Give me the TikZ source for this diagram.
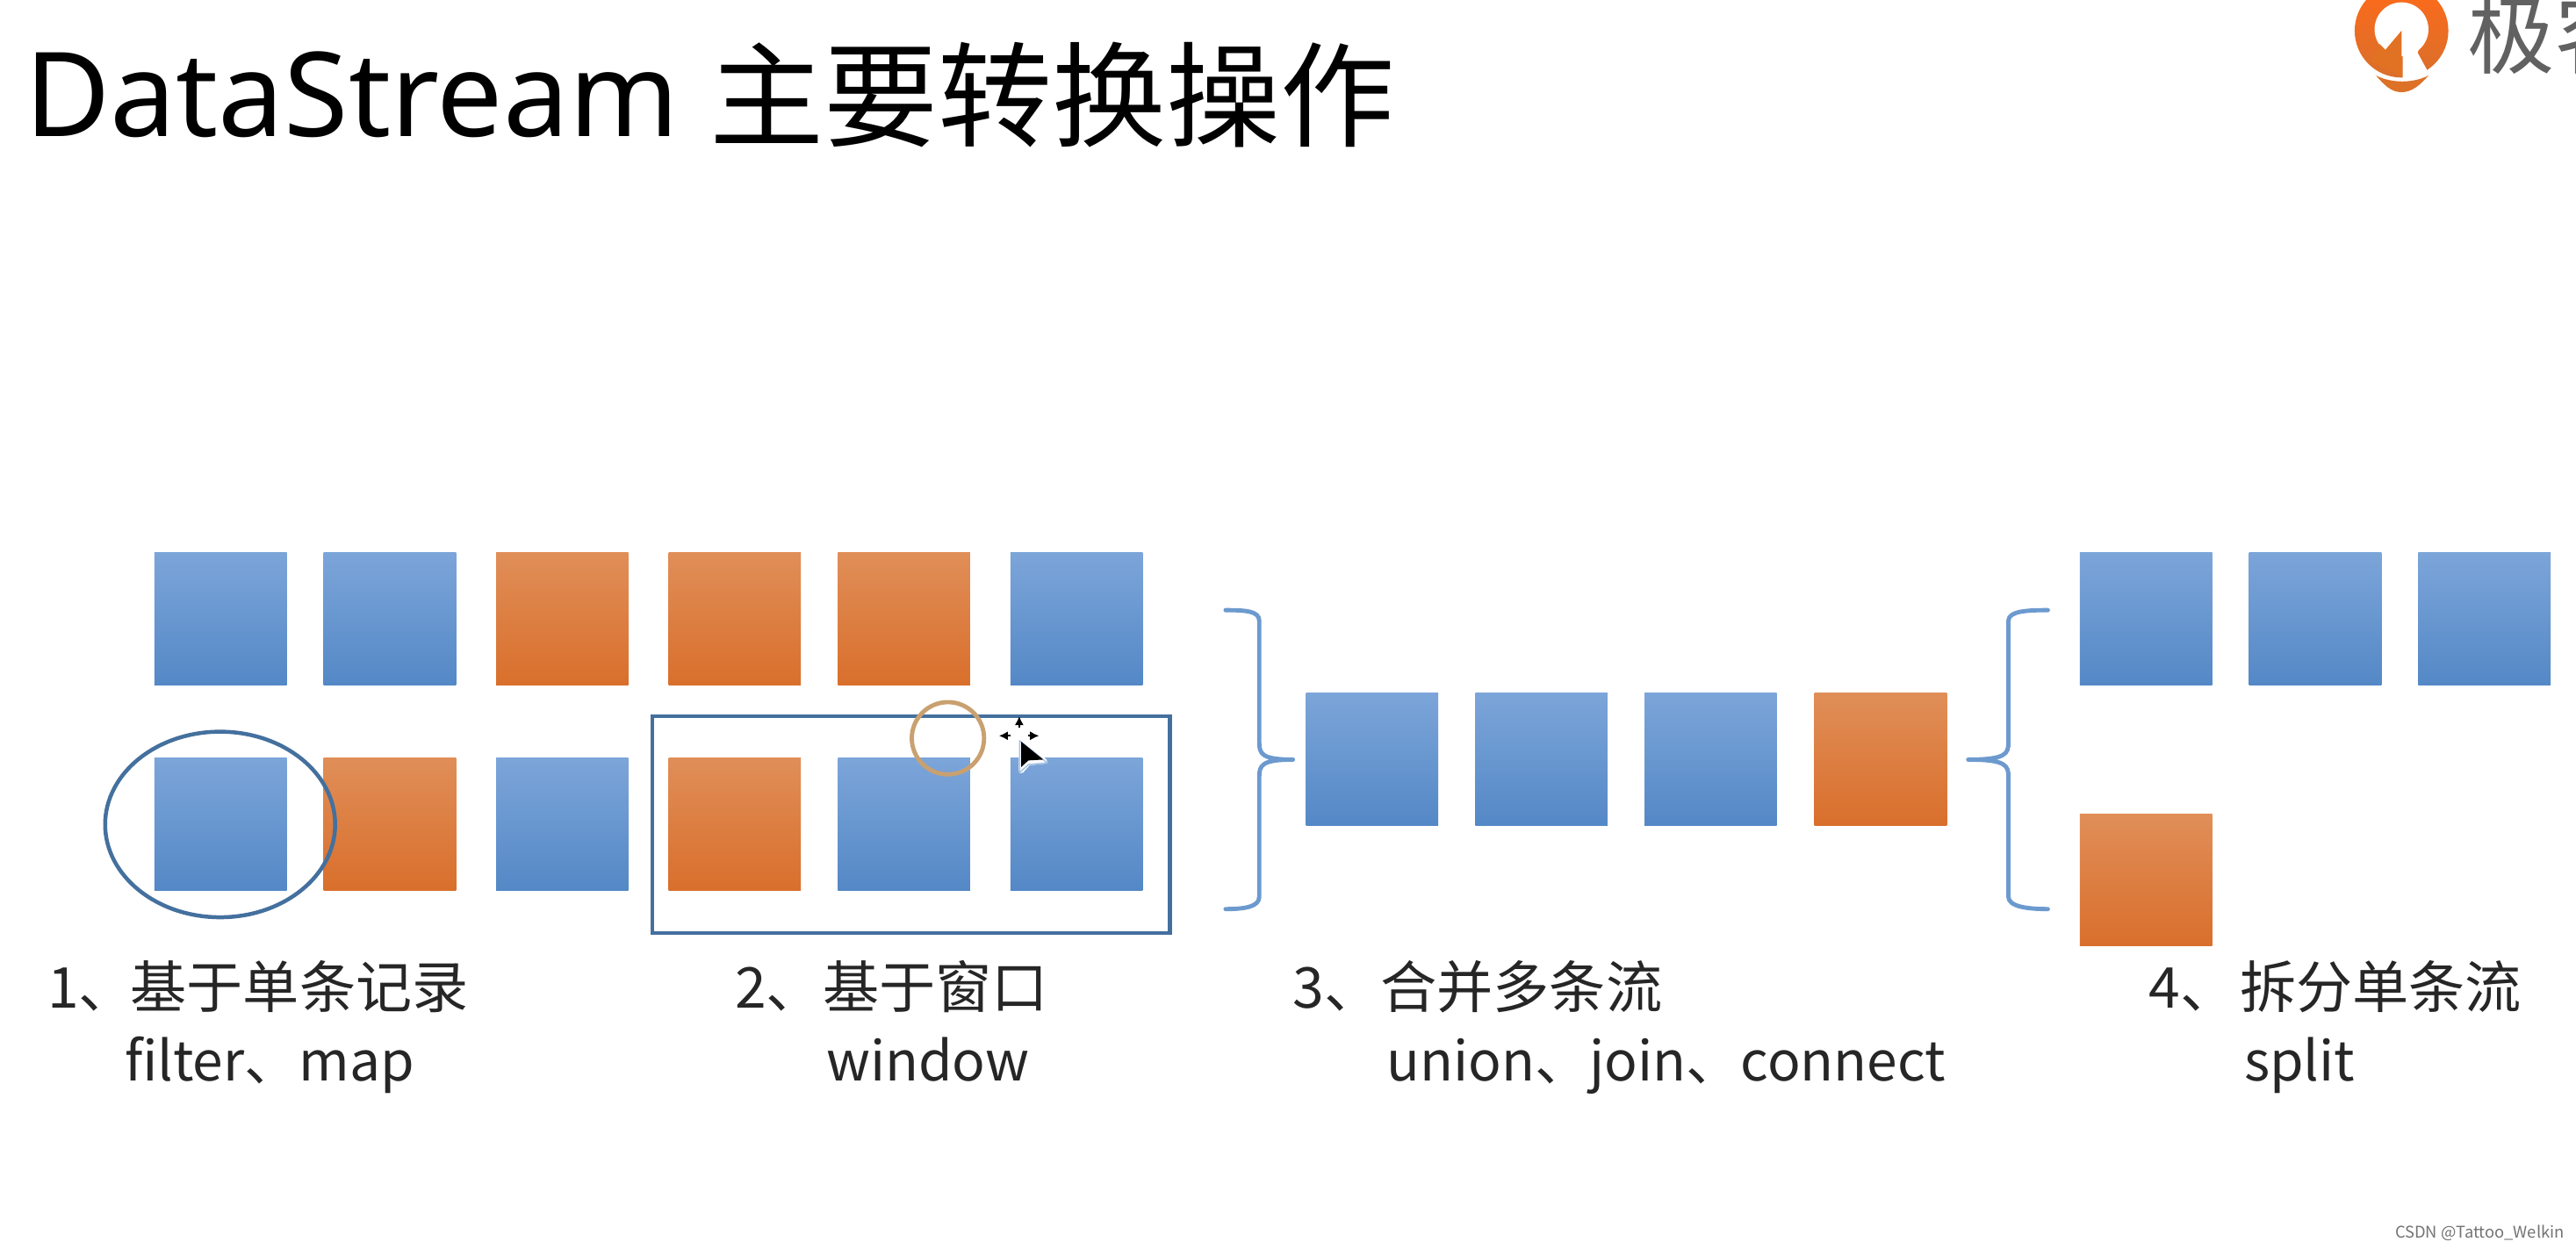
\documentclass[tikz,border=0pt]{standalone}
\usepackage{fontspec}
\setmainfont{Noto Sans CJK SC}
\newfontfamily\latinfont{Noto Sans}
\usetikzlibrary{arrows.meta}
\definecolor{bluetop}{HTML}{7CA5D9}
\definecolor{bluebot}{HTML}{5488C6}
\definecolor{orgtop}{HTML}{E08E58}
\definecolor{orgbot}{HTML}{D96F2C}
\definecolor{framecol}{HTML}{44709E}
\definecolor{bracecol}{HTML}{6C9ACF}
\definecolor{ringcol}{HTML}{C9A070}
\tikzset{
  sq/.style={rectangle,inner sep=0pt,outer sep=0pt,minimum width=80.5pt,minimum height=80.5pt,anchor=north west,shading=axis,shading angle=0},
  bluesq/.style={sq,top color=bluetop,bottom color=bluebot},
  orgsq/.style={sq,top color=orgtop,bottom color=orgbot},
  lab/.style={anchor=base west,inner sep=0pt,outer sep=0pt,font=\fontsize{34.3}{34.3}\selectfont,text=black!85},
  labb/.style={anchor=base west,inner sep=0pt,outer sep=0pt,font=\fontsize{33.3}{33.3}\selectfont,text=black!85},
  titletxt/.style={anchor=base west,inner sep=0pt,outer sep=0pt,font=\fontsize{69.5}{69.5}\selectfont,text=black},
  bracepath/.style={draw=bracecol,line width=2.6pt,line cap=round,line join=round},
  framepath/.style={draw=framecol,line width=2.4pt},
  curarrow/.style={-{Latex[length=5.5pt,width=5.5pt]},line width=1.2pt},
}
\begin{document}
\begin{tikzpicture}[x=1pt,y=-1pt]
\useasboundingbox (0,0) rectangle (1568,760);
\fill[white] (0,0) rectangle (1568,760);
% title
\node[titletxt,font=\latinfont\fontsize{71.4}{71.4}\selectfont] (title1) at (15,83) {DataStream};
\node[titletxt] (title2) at (432,84) {主要转换操作};
% logo
\begin{scope}
\clip (0,0) rectangle (1568,760);
\begin{scope}[shift={(1389.6,0)},scale=0.1782]
\path[top color=orange!70!red!90!white,bottom color=orgbot] (405,105) circle (160);
\fill[white] (405,100) circle (92);
\fill[orgbot!80!orange] (405,105) -- (350,170) -- (330,150) -- (300,210) -- (405,262) -- cycle;
\fill[white] (409,100) -- (409,272) -- (505,272) -- (490,235) -- (460,180) -- (480,120) -- cycle;
\path[fill=orgbot!90!orange] (318,258) .. controls (370,285) and (445,285) .. (497,258) .. controls (470,290) and (440,315) .. (405,315) .. controls (370,315) and (345,290) .. (318,258) -- cycle;
\end{scope}
\node[anchor=base west,inner sep=0pt,font=\fontsize{53}{53}\selectfont,text=black!62] (logotxt) at (1502,41) {极客};
\end{scope}
% row 1
\node[bluesq] (a1) at (94,336.5) {};
\node[bluesq] (a2) at (197,336.5) {};
\node[orgsq] (a3) at (302,336.5) {};
\node[orgsq] (a4) at (407,336.5) {};
\node[orgsq] (a5) at (510,336.5) {};
\node[bluesq] (a6) at (615,336.5) {};
% row 2
\node[bluesq] (b1) at (94,461.5) {};
\node[orgsq] (b2) at (197,461.5) {};
\node[bluesq] (b3) at (302,461.5) {};
\node[orgsq] (b4) at (407,461.5) {};
\node[bluesq] (b5) at (510,461.5) {};
\node[bluesq] (b6) at (615,461.5) {};
% merged row
\node[bluesq] (c1) at (795,422) {};
\node[bluesq] (c2) at (898,422) {};
\node[bluesq] (c3) at (1001,422) {};
\node[orgsq] (c4) at (1104.5,422) {};
% split
\node[bluesq] (d1) at (1266,336.5) {};
\node[bluesq] (d2) at (1369,336.5) {};
\node[bluesq] (d3) at (1472,336.5) {};
\node[orgsq] (d4) at (1266,495.5) {};
% selections
\draw[framepath] (134,502) ellipse (70 and 56.5);
\draw[framepath] (397,436) rectangle (712,568);
\draw[draw=ringcol,line width=2.6pt] (577,449.5) circle (22);
% braces
\draw[bracepath] (746,371.5) .. controls (758,371.5) and (766.5,372) .. (766.5,378) -- (766.5,452) .. controls (766.5,459) and (768,462.5) .. (787,462.5) .. controls (768,462.5) and (766.5,466) .. (766.5,473) -- (766.5,546) .. controls (766.5,552) and (758,553.5) .. (746,553.5);
\draw[bracepath] (1246.5,371.5) .. controls (1234,371.5) and (1222.5,372) .. (1222.5,378) -- (1222.5,452) .. controls (1222.5,459) and (1221,462.5) .. (1198,462.5) .. controls (1221,462.5) and (1222.5,466) .. (1222.5,473) -- (1222.5,546) .. controls (1222.5,552) and (1234,553.5) .. (1246.5,553.5);
% cursor
\fill[white,opacity=.85] (614,441) rectangle (627,455);
\draw[draw=white,line width=3pt,line join=round] (621.6,451.6) -- (621.6,469.4) -- (626,464.5) -- (636,463.5) -- cycle;
\draw[draw=bracecol!60,line width=0.8pt,line join=round] (620.6,451) -- (620.6,470.5) -- (626,465.5) -- (637.5,464.5) -- cycle;
\fill[black] (621.6,451.6) -- (621.6,467) -- (626,463) -- (635,462.5) -- cycle;
\draw[curarrow] (620.4,443) -- (620.4,436);
\draw[curarrow] (615,448) -- (608,448);
\draw[curarrow] (626,448) -- (632.5,448);
% labels
\node[lab] (l1a) at (29,614) {1、\kern-3pt 基于单条记录};
\node[labb] (l1b) at (76,658) {filter、map};
\node[lab] (l2a) at (447.5,614) {2、基于窗口};
\node[labb] (l2b) at (503,658) {window};
\node[lab] (l3a) at (787,614) {3、合并多条流};
\node[labb] (l3b) at (844,658) {union、join、connect};
\node[lab] (l4a) at (1308,614) {4、\kern2pt 拆分单条流};
\node[labb] (l4b) at (1366,658) {split};
% watermark
\node[anchor=base east,inner sep=0pt,font=\fontsize{9.8}{9.8}\selectfont,text=black!55] (wm) at (1561,754) {CSDN @Tattoo\_Welkin};
\end{tikzpicture}
\end{document}
